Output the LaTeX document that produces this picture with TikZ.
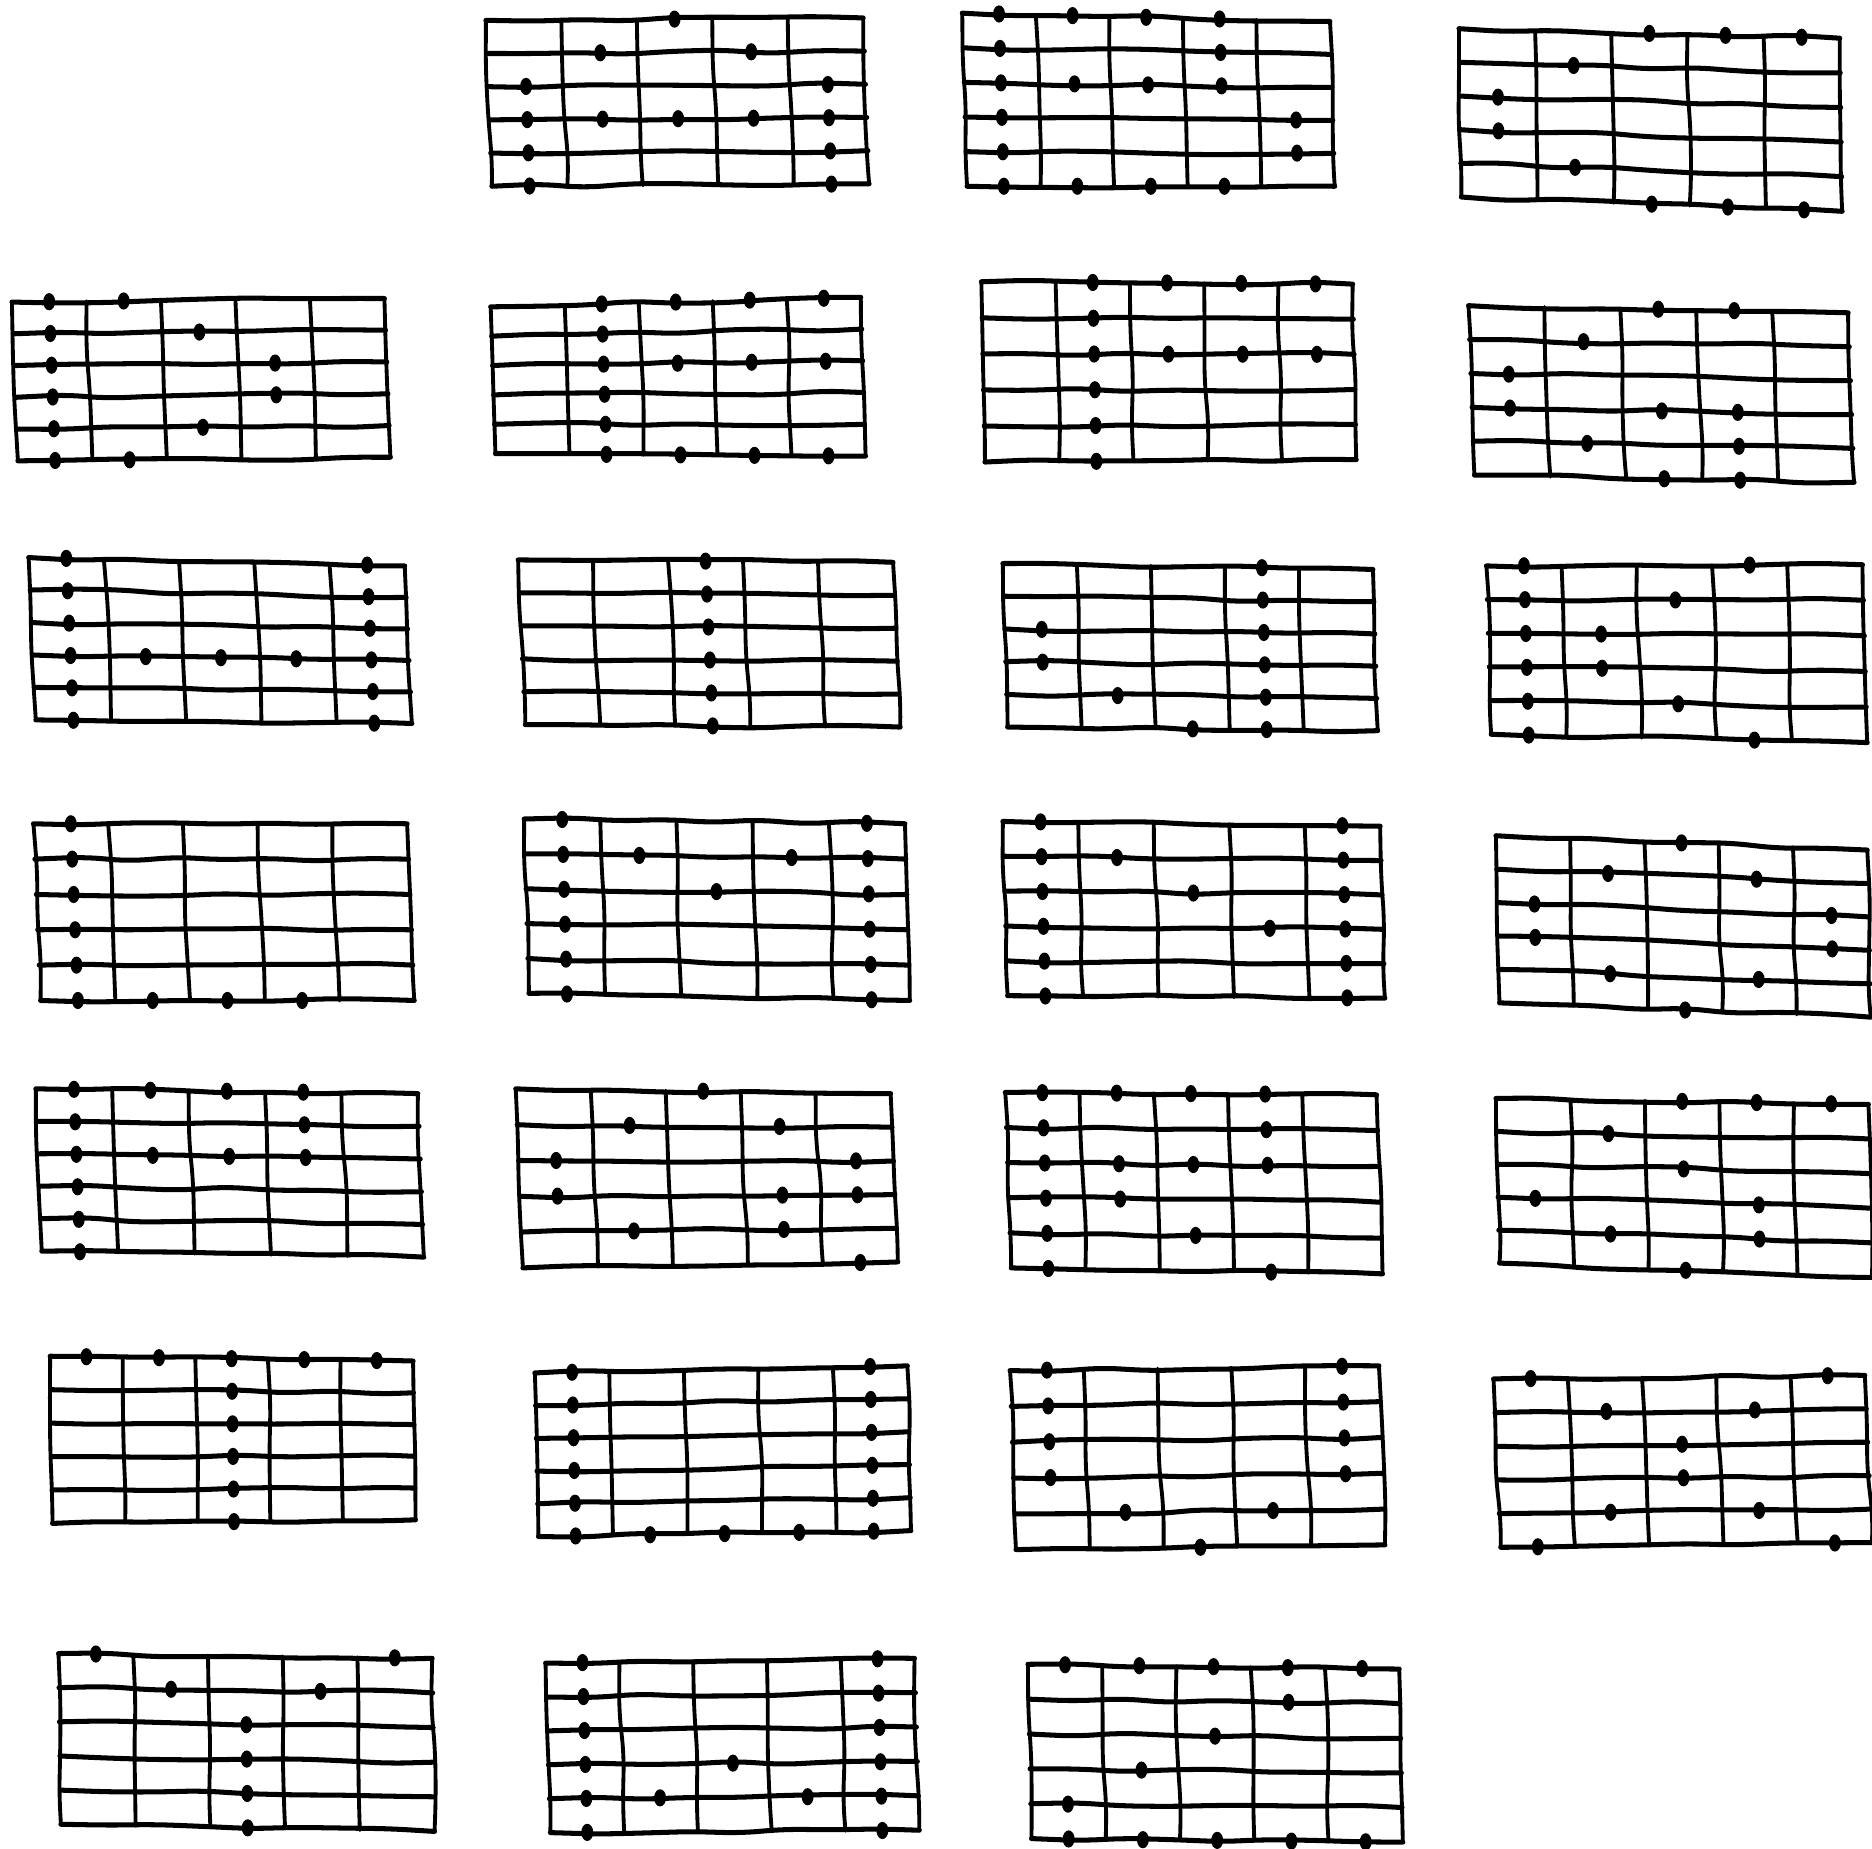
\documentclass[tikz,border=0pt]{standalone}
\usepackage{tikz}
\usetikzlibrary{calc, decorations.pathmorphing}
\tikzset{
  wobble/.style={decorate, decoration={random steps, segment length=28pt, amplitude=1.2pt}, rounded corners=10pt},
  gstring/.style={line width=3pt, line cap=round, wobble},
  gfret/.style={line width=2.3pt, line cap=round, wobble},
  fdot/.style={fill=black}
}
% one fretboard: left x, right x, top y (left/right), bottom y (left/right), bottom shift, dots fret/string
\newcommand{\fboard}[8]{
  \coordinate (tl) at (#1,#3);
  \coordinate (tr) at (#2,#4);
  \coordinate (bl) at (#1+#7,#5);
  \coordinate (br) at (#2+#7,#6);
  \foreach \s in {0,...,5}
    \draw[gstring] ($(tl)!\s/5!(bl)$) -- ($(tr)!\s/5!(br)$);
  \foreach \f in {0,...,5}
    \draw[gfret] ($(tl)!\f/5!(tr)$) -- ($(bl)!\f/5!(br)$);
  \foreach \f/\s in {#8}{
    \coordinate (u) at ($(tl)!{(\f-0.5)/5}!(tr)$);
    \coordinate (v) at ($(bl)!{(\f-0.5)/5}!(br)$);
    \fill[fdot] ($(u)!{(\s-1)/5}!(v)$) ellipse (5 and 7.2);
  }
}
\pgfmathsetseed{42}
\begin{document}
\begin{tikzpicture}[x=0.025cm, y=-0.025cm]
\useasboundingbox (0,0) rectangle (1568,1548);
% row 1
\fboard{407}{723}{17}{15}{156}{154}{5}{3/1,2/2,4/2,1/3,5/3,1/4,2/4,3/4,4/4,5/4,1/5,5/5,1/6,5/6}
\fboard{806}{1114}{11}{18}{156}{156}{4}{1/1,2/1,3/1,4/1,1/2,4/2,1/3,2/3,3/3,4/3,1/4,5/4,1/5,5/5,1/6,2/6,3/6,4/6}
\fboard{1222}{1541}{24}{32}{165}{177}{2}{3/1,4/1,5/1,2/2,1/3,1/4,2/5,3/6,4/6,5/6}
% row 2
\fboard{10}{322}{253}{250}{386}{383}{5}{1/1,2/1,1/2,3/2,1/3,4/3,1/4,4/4,1/5,3/5,1/6,2/6}
\fboard{411}{721}{257}{249}{380}{382}{4}{2/1,3/1,4/1,5/1,2/2,2/3,3/3,4/3,5/3,2/4,2/5,2/6,3/6,4/6,5/6}
\fboard{822}{1133}{236}{238}{387}{385}{3}{2/1,3/1,4/1,5/1,2/2,2/3,3/3,4/3,5/3,2/4,2/5,2/6}
\fboard{1230}{1548}{256}{262}{398}{404}{5}{3/1,4/1,2/2,1/3,1/4,3/4,4/4,2/5,4/5,3/6,4/6}
% row 3
\fboard{24}{339}{467}{474}{603}{606}{6}{1/1,5/1,1/2,5/2,1/3,5/3,1/4,2/4,3/4,4/4,5/4,1/5,5/5,1/6,5/6}
\fboard{434}{748}{469}{471}{607}{609}{6}{3/1,3/2,3/3,3/4,3/5,3/6}
\fboard{840}{1150}{472}{477}{609}{612}{4}{4/1,4/2,1/3,4/3,1/4,4/4,2/5,4/5,3/6,4/6}
\fboard{1245}{1560}{474}{473}{615}{622}{4}{1/1,4/1,1/2,3/2,1/3,2/3,1/4,2/4,1/5,3/5,1/6,4/6}
% row 4
\fboard{28}{341}{690}{690}{838}{838}{6}{1/1,1/2,1/3,1/4,1/5,1/6,2/6,3/6,4/6}
\fboard{439}{758}{686}{690}{832}{838}{4}{1/1,5/1,1/2,2/2,4/2,5/2,1/3,3/3,5/3,1/4,5/4,1/5,5/5,1/6,5/6}
\fboard{840}{1156}{688}{692}{834}{836}{4}{1/1,5/1,1/2,2/2,5/2,1/3,3/3,5/3,1/4,4/4,5/4,1/5,5/5,1/6,5/6}
\fboard{1253}{1564}{700}{712}{840}{852}{3}{3/1,2/2,4/2,1/3,5/3,1/4,5/4,2/5,4/5,3/6}
% row 5
\fboard{30}{350}{912}{916}{1048}{1053}{5}{1/1,2/1,3/1,4/1,1/2,4/2,1/3,2/3,3/3,4/3,1/4,1/5,1/6}
\fboard{432}{746}{912}{916}{1062}{1057}{6}{3/1,2/2,4/2,1/3,5/3,1/4,4/4,5/4,2/5,4/5,5/6}
\fboard{842}{1153}{915}{917}{1062}{1067}{5}{1/1,2/1,3/1,4/1,1/2,4/2,1/3,2/3,3/3,4/3,1/4,2/4,1/5,3/5,1/6,4/6}
\fboard{1253}{1565}{920}{925}{1058}{1070}{3}{3/1,4/1,5/1,2/2,3/3,1/4,4/4,2/5,4/5,3/6}
% row 6
\fboard{42}{346}{1136}{1140}{1276}{1273}{2}{1/1,2/1,3/1,4/1,5/1,3/2,3/3,3/4,3/5,3/6}
\fboard{448}{760}{1150}{1144}{1287}{1282}{3}{1/1,5/1,1/2,5/2,1/3,5/3,1/4,5/4,1/5,5/5,1/6,2/6,3/6,4/6,5/6}
\fboard{846}{1155}{1148}{1144}{1298}{1294}{5}{1/1,5/1,1/2,5/2,1/3,5/3,1/4,5/4,2/5,4/5,3/6}
\fboard{1251}{1562}{1155}{1152}{1296}{1292}{6}{1/1,5/1,2/2,4/2,3/3,3/4,2/5,4/5,1/6,5/6}
% row 7
\fboard{49}{362}{1385}{1389}{1528}{1534}{2}{1/1,5/1,2/2,4/2,3/3,3/4,3/5,3/6}
\fboard{457}{766}{1393}{1389}{1535}{1533}{4}{1/1,5/1,1/2,5/2,1/3,5/3,1/4,3/4,5/4,1/5,2/5,4/5,5/5,1/6,5/6}
\fboard{861}{1172}{1394}{1398}{1540}{1543}{3}{1/1,2/1,3/1,4/1,5/1,4/2,3/3,2/4,1/5,1/6,2/6,3/6,4/6,5/6}
\end{tikzpicture}
\end{document}
